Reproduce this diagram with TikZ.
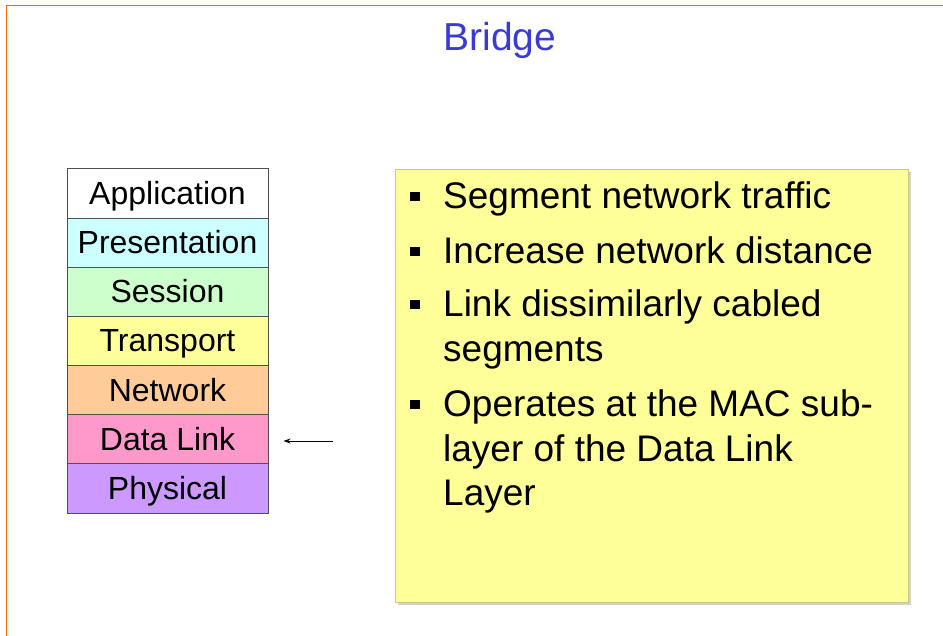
\documentclass[tikz,border=0pt]{standalone}
\usepackage{fontspec}
\setmainfont{Liberation Sans}
\usetikzlibrary{arrows.meta}
\definecolor{orangeline}{RGB}{255,102,0}
\definecolor{titleblue}{RGB}{58,58,214}
\definecolor{cPres}{RGB}{204,255,255}
\definecolor{cSess}{RGB}{204,255,204}
\definecolor{cTrans}{RGB}{255,255,153}
\definecolor{cNet}{RGB}{255,204,153}
\definecolor{cData}{RGB}{255,153,204}
\definecolor{cPhys}{RGB}{204,153,255}
\definecolor{noteFill}{RGB}{255,255,153}
\definecolor{noteBorder}{RGB}{200,200,130}
\definecolor{noteShadow}{RGB}{210,210,200}
\definecolor{layerBorder}{RGB}{80,80,80}
\tikzset{
  layerbox/.style={draw=layerBorder, line width=1pt, minimum width=201pt, minimum height=49.14pt,
    inner sep=0pt, text height=22pt, text depth=0pt, font=\fontsize{32}{38}\selectfont},
  bulletsq/.style={fill=black, minimum size=9.5pt, inner sep=0pt},
  bullettext/.style={anchor=base west, inner sep=0pt, font=\fontsize{37}{44.5}\selectfont},
}
\begin{document}
\begin{tikzpicture}[x=1pt,y=-1pt]
\useasboundingbox (0,0) rectangle (943,636);
% frame lines
\coordinate (tl) at (6.5,5.5);
\coordinate (tr) at (943,5.5);
\coordinate (bl) at (6.5,636);
\draw[orangeline, line width=1.5pt] (bl) -- (tl) -- (tr);
% title
\node[font=\fontsize{39}{45}\selectfont, text=titleblue, anchor=base, inner sep=0pt] (title) at (500,51) {Bridge};
% OSI layers
\node[layerbox, fill=white] (app) at (167.5,193.57) {Application};
\node[layerbox, fill=cPres] (pres) at (167.5,242.71) {Presentation};
\node[layerbox, fill=cSess] (sess) at (167.5,291.85) {Session};
\node[layerbox, fill=cTrans] (trans) at (167.5,341.0) {Transport};
\node[layerbox, fill=cNet] (net) at (167.5,390.14) {Network};
\node[layerbox, fill=cData] (dl) at (167.5,439.28) {Data Link};
\node[layerbox, fill=cPhys] (phys) at (167.5,488.43) {Physical};
% arrow
\coordinate (arrtail) at (333,441);
\draw[-{Stealth[length=7pt,width=5pt]}, line width=1pt] (arrtail) -- ([xshift=15pt]dl.east |- arrtail);
% note box
\fill[noteShadow] (398,172) rectangle (911,605);
\node[draw=noteBorder, fill=noteFill, line width=1.2pt, minimum width=513pt, minimum height=433pt, inner sep=0pt, anchor=north west] (note) at (395,169) {};
% bullets
\node[bulletsq] (b1) at (415,196.5) {};
\node[bullettext] (t1) at (443,209) {Segment network traffic};
\node[bulletsq] (b2) at (415,251.5) {};
\node[bullettext] (t2) at (443,264) {Increase network distance};
\node[bulletsq] (b3) at (415,304.5) {};
\node[bullettext] (t3a) at (443,317) {Link dissimilarly cabled};
\node[bullettext] (t3b) at (443,361.5) {segments};
\node[bulletsq] (b4) at (415,404.5) {};
\node[bullettext] (t4a) at (443,417) {Operates at the MAC sub-};
\node[bullettext] (t4b) at (443,461) {layer of the Data Link};
\node[bullettext] (t4c) at (443,505) {Layer};
\end{tikzpicture}
\end{document}
